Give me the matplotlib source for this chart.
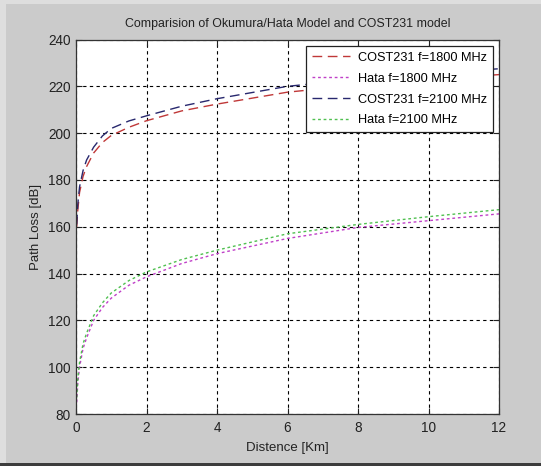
import matplotlib
matplotlib.use("Agg")
import matplotlib.pyplot as plt
from matplotlib.patches import Rectangle

dist_km = [0.02, 0.05, 0.1, 0.2, 0.3, 0.5, 0.75, 1, 1.5, 2, 3, 4, 6, 8, 10, 12]

cost_1800 = [160, 167, 174.6, 181.5, 185.7, 191.5, 196, 199, 202.5, 205.3,
             209.5, 212.4, 217.5, 220.5, 223, 225]
hata_1800 = [85, 93, 100, 108, 112.5, 120, 125.5, 129.5, 135, 138.6,
             144.3, 148.5, 155, 159.7, 162.6, 165.5]
cost_2100 = [161, 169.5, 177, 184, 188.5, 194, 198.8, 202, 205.2, 207.4,
             211.5, 214.7, 220, 223, 225.5, 227.5]
hata_2100 = [87, 95, 102, 110, 114.5, 122, 127.5, 131.7, 137, 140.7,
             146, 150, 157, 161, 164.3, 167.3]

x_ticks = [0, 2, 4, 6, 8, 10, 12]
y_ticks = [80, 100, 120, 140, 160, 180, 200, 220, 240]

plt.rcParams["font.family"] = ["Liberation Sans", "DejaVu Sans"]

W, H = 541, 466
fig = plt.figure(figsize=(W / 100, H / 100), dpi=100, facecolor="#cbcbcb")

# window-like border strips
fig.add_artist(Rectangle((0, 1 - 4 / H), 1, 4 / H, transform=fig.transFigure,
                         facecolor="#dedede", edgecolor="none"))
fig.add_artist(Rectangle((0, 0), 6 / W, 1, transform=fig.transFigure,
                         facecolor="#dedede", edgecolor="none"))
fig.add_artist(Rectangle((0, 0), 1, 3 / H, transform=fig.transFigure,
                         facecolor="#3c3c3c", edgecolor="none"))

ax = fig.add_axes([76 / W, 1 - 414 / H, (499 - 76) / W, (414 - 39.5) / H])
ax.set_facecolor("white")

ax.plot(dist_km, cost_1800, color="#c03838", lw=1.0, dashes=(7, 4),
        label="COST231 f=1800 MHz")
ax.plot(dist_km, hata_1800, color="#c040c8", lw=1.0, dashes=(2, 2),
        label="Hata f=1800 MHz")
ax.plot(dist_km, cost_2100, color="#28286e", lw=1.0, dashes=(7, 4),
        label="COST231 f=2100 MHz")
ax.plot(dist_km, hata_2100, color="#50c050", lw=1.0, dashes=(2, 2),
        label="Hata f=2100 MHz")

ax.set_xlim(0, 12)
ax.set_ylim(80, 240)
ax.set_xticks(x_ticks)
ax.set_yticks(y_ticks)
ax.tick_params(direction="in", top=True, right=True, length=4,
               labelsize=9.8, colors="#222222")
ax.tick_params(axis="x", pad=5)
ax.tick_params(axis="y", pad=4)
ax.grid(True, color="black", lw=0.8, linestyle=(0, (3, 3)))
for s in ax.spines.values():
    s.set_color("#333333")
    s.set_linewidth(0.9)

ax.set_xlabel("Distence [Km]", fontsize=9.5, color="#222222", labelpad=5)
ax.set_ylabel("Path Loss [dB]", fontsize=9.5, color="#222222", labelpad=4)
ax.set_title("Comparision of Okumura/Hata Model and COST231 model",
             fontsize=8.9, color="#222222", pad=9)

leg = ax.legend(loc="upper right", fontsize=9.2, handlelength=3.0,
                fancybox=False, framealpha=1, edgecolor="#222222",
                borderaxespad=0.5, labelspacing=0.7, borderpad=0.45,
                handletextpad=0.6)
leg.get_frame().set_linewidth(0.9)

fig.savefig("out.png", dpi=100, facecolor=fig.get_facecolor())
